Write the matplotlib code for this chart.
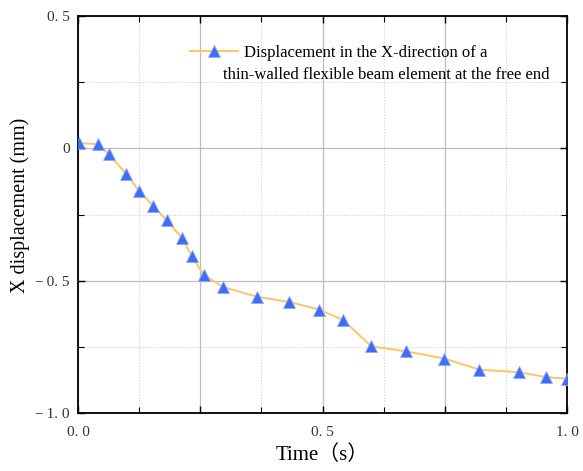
"""Free-end X displacement of a thin-walled flexible beam element."""

import matplotlib
matplotlib.use("Agg")
import matplotlib.pyplot as plt
from matplotlib.ticker import FixedLocator, FuncFormatter, MultipleLocator

# 데이터
time_s = [0.003, 0.040, 0.063, 0.098, 0.125, 0.154, 0.181, 0.212, 0.233, 0.257,
          0.297, 0.367, 0.431, 0.493, 0.542, 0.600, 0.671, 0.749, 0.821, 0.902,
          0.957, 0.999]
disp_mm = [0.020, 0.016, -0.022, -0.095, -0.162, -0.217, -0.272, -0.337, -0.408, -0.478,
           -0.524, -0.561, -0.580, -0.609, -0.648, -0.748, -0.767, -0.794, -0.836, -0.846,
           -0.864, -0.870]

x_ticks = [0.0, 0.5, 1.0]
x_tick_labels = ["0. 0", "0. 5", "1. 0"]
y_ticks = [0.5, 0.0, -0.5, -1.0]
y_tick_labels = ["0. 5", "0", "\u2212\u20090. 5", "\u2212\u20091. 0"]

LEGEND_LINE1 = "Displacement in the X-direction of a"
LEGEND_LINE2 = "thin-walled flexible beam element at the free end"

SERIF = ["Liberation Serif", "Noto Sans CJK SC", "DejaVu Serif"]
plt.rcParams["font.family"] = SERIF

fig = plt.figure(figsize=(5.83, 4.71), dpi=100)
ax = fig.add_axes([0.1338, 0.123, 0.8388, 0.843])

ax.plot(time_s, disp_mm, color="#FCC46C", lw=1.4, marker="^", ms=8.5,
        mfc="#3F6EF4", mec="#8FA8F8", mew=0.6, label=LEGEND_LINE1, zorder=3)

ax.set_xlim(0, 1.0)
ax.set_ylim(-1.0, 0.5)

# 눈금: x 주눈금 0.25, y 주눈금 0.5 (보조눈금은 점선 격자)
ax.xaxis.set_major_locator(MultipleLocator(0.25))
ax.xaxis.set_minor_locator(FixedLocator([0.125, 0.375, 0.625, 0.875]))
ax.yaxis.set_major_locator(MultipleLocator(0.5))
ax.yaxis.set_minor_locator(MultipleLocator(0.25))

xlab = dict(zip(x_ticks, x_tick_labels))
ylab = dict(zip(y_ticks, y_tick_labels))
ax.xaxis.set_major_formatter(FuncFormatter(lambda v, p: xlab.get(round(v, 3), "")))
ax.yaxis.set_major_formatter(FuncFormatter(lambda v, p: ylab.get(round(v, 3), "")))

ax.tick_params(which="both", direction="in", top=True, right=True,
               labelsize=11, colors="black")
ax.tick_params(which="major", length=5, width=1.0)
ax.tick_params(which="minor", length=4, width=0.8)
ax.tick_params(axis="x", pad=9)
ax.tick_params(axis="y", pad=6)
for lbl in ax.get_xticklabels() + ax.get_yticklabels():
    lbl.set_color("#333333")

ax.grid(which="major", color="#BDBDBD", lw=0.9, ls="-")
ax.grid(which="minor", color="#D8D8D8", lw=0.7, ls=(0, (1.5, 1.5)))
ax.set_axisbelow(True)

for sp in ax.spines.values():
    sp.set_linewidth(1.3)

ax.set_xlabel("Time\uff08s\uff09", fontsize=15, labelpad=5)
ax.set_ylabel("X displacement (mm)", fontsize=14.5)
ax.yaxis.set_label_coords(-0.098, 0.524)

# 범례: 핸들은 첫 줄에, 둘째 줄은 별도 텍스트
ax.legend(loc="center left", bbox_to_anchor=(0.229, 0.907), frameon=False,
          fontsize=12, handlelength=2.9, handletextpad=0.36,
          borderaxespad=0, borderpad=0)
ax.text(0.2965, 0.851, LEGEND_LINE2, transform=ax.transAxes, fontsize=12,
        ha="left", va="center")

fig.savefig("out.png", dpi=100, facecolor="white")
